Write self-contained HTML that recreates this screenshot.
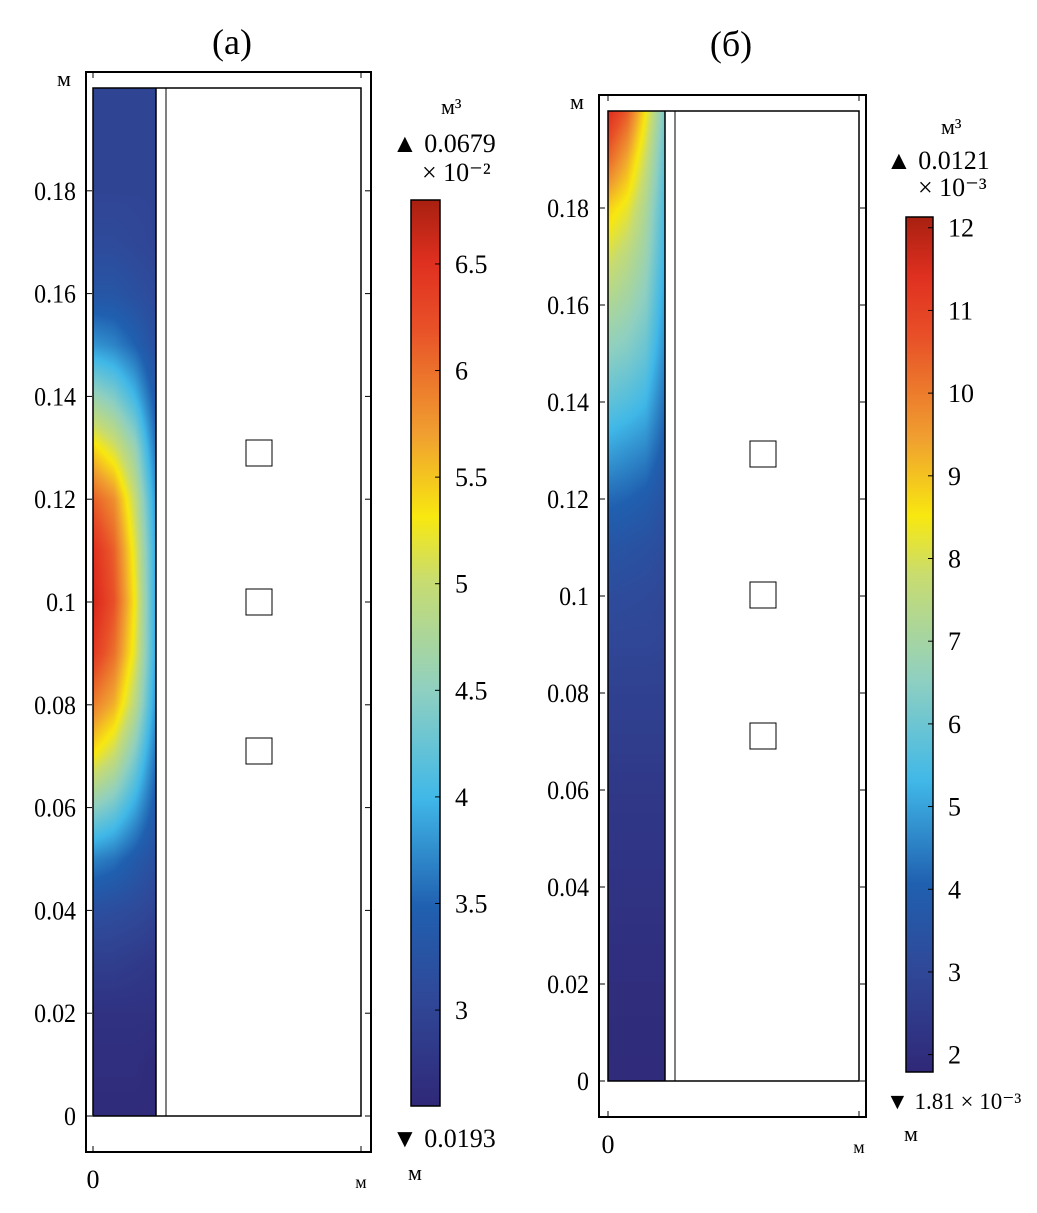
<!DOCTYPE html>
<html><head><meta charset="utf-8">
<style>
body{margin:0;background:#fff;width:1037px;height:1213px;overflow:hidden;position:relative;font-family:"Liberation Serif","DejaVu Serif",serif}
svg{position:absolute;left:0;top:0}
canvas{position:absolute}
</style></head>
<body>
<canvas id="ha" width="63" height="1028" style="left:93px;top:88px"></canvas>
<canvas id="hb" width="57" height="970" style="left:608px;top:111px"></canvas>
<svg id="s" width="1037" height="1213"></svg>
<script>
const yRows = [0,0.01,0.02,0.03,0.04,0.05,0.06,0.07,0.08,0.09,0.10,0.11,0.12,0.13,0.14,0.15,0.16,0.17,0.18,0.19,0.20];
const aCol0 = [2.6,2.65,2.7,2.9,3.2,3.7,4.5,5.3,5.9,6.4,6.6,6.5,6.1,5.4,4.6,3.8,3.3,3.1,3.0,3.0,3.0];
const aCol1 = [2.6,2.65,2.7,2.9,3.15,3.6,4.3,5.0,5.6,6.0,6.2,6.1,5.8,5.1,4.4,3.7,3.3,3.1,3.0,3.0,3.0];
const aCol2 = [2.6,2.65,2.7,2.85,3.1,3.4,3.9,4.4,4.9,5.2,5.3,5.2,5.0,4.6,4.0,3.5,3.2,3.05,3.0,3.0,3.0];
const aCol3 = [2.6,2.6,2.7,2.8,3.0,3.2,3.4,3.6,3.8,3.9,3.9,3.9,3.8,3.6,3.4,3.2,3.1,3.0,3.0,3.0,3.0];
const bCol0 = [1.9,1.95,2.0,2.1,2.2,2.3,2.4,2.6,2.75,2.95,3.2,3.6,4.2,5.0,5.8,6.5,7.2,8.0,8.8,10.3,11.5];
const bCol1 = [1.9,1.95,2.0,2.1,2.2,2.3,2.4,2.6,2.75,2.95,3.15,3.5,4.1,4.8,5.6,6.3,6.9,7.5,8.3,9.3,10.5];
const bCol2 = [1.9,1.95,2.0,2.1,2.2,2.3,2.4,2.6,2.75,2.95,3.1,3.4,3.9,4.6,5.3,5.9,6.4,6.8,7.2,7.8,8.5];
const bCol3 = [1.9,1.95,2.0,2.1,2.2,2.3,2.4,2.6,2.75,2.9,3.0,3.2,3.5,3.9,4.3,4.7,5.0,5.3,5.5,5.8,6.2];
const yTicks = [0,0.02,0.04,0.06,0.08,0.1,0.12,0.14,0.16,0.18];
const yTickLabels = ["0","0.02","0.04","0.06","0.08","0.1","0.12","0.14","0.16","0.18"];
const aCbTicks = [3,3.5,4,4.5,5,5.5,6,6.5];
const aCbLabels = ["3","3.5","4","4.5","5","5.5","6","6.5"];
const bCbTicks = [2,3,4,5,6,7,8,9,10,11,12];
const bCbLabels = ["2","3","4","5","6","7","8","9","10","11","12"];
const aRange = [2.55,6.8];
const bRange = [1.79,12.13];

const cmap = [[0,[48,40,120]],[0.12,[48,72,152]],[0.22,[32,96,176]],[0.34,[64,184,232]],[0.46,[144,208,192]],[0.58,[200,220,112]],[0.65,[248,232,16]],[0.74,[240,160,48]],[0.86,[232,80,40]],[0.93,[224,48,32]],[1,[168,32,16]]];
function col(t){t=Math.max(0,Math.min(1,t));for(let i=1;i<cmap.length;i++){if(t<=cmap[i][0]){const a=cmap[i-1],b=cmap[i];const f=(t-a[0])/(b[0]-a[0]);return a[1].map((c,k)=>Math.round(c+(b[1][k]-c)*f));}}return cmap[cmap.length-1][1];}

function drawHeat(id,cols,range){
  const cv=document.getElementById(id),ctx=cv.getContext('2d');
  const W=cv.width,H=cv.height,img=ctx.createImageData(W,H);
  for(let py=0;py<H;py++){
    const yv=0.2*(1-py/(H-1));let r=yv/0.01;let i0=Math.min(19,Math.floor(r));const fy=r-i0;
    const colv=cols.map(c=>c[i0]+(c[i0+1]-c[i0])*fy);
    for(let px=0;px<W;px++){
      const xf=px/(W-1)*3;const j=Math.min(2,Math.floor(xf));const fx=xf-j;
      const v=colv[j]+(colv[j+1]-colv[j])*fx;
      const c=col((v-range[0])/(range[1]-range[0]));
      const k=(py*W+px)*4;img.data[k]=c[0];img.data[k+1]=c[1];img.data[k+2]=c[2];img.data[k+3]=255;
    }
  }
  ctx.putImageData(img,0,0);
}
drawHeat('ha',[aCol0,aCol1,aCol2,aCol3],aRange);
drawHeat('hb',[bCol0,bCol1,bCol2,bCol3],bRange);

const NS='http://www.w3.org/2000/svg',svg=document.getElementById('s');
function el(tag,attrs,txt){const e=document.createElementNS(NS,tag);for(const k in attrs)e.setAttribute(k,attrs[k]);if(txt!==undefined)e.textContent=txt;svg.appendChild(e);return e;}
const defs=el('defs',{});
const lg=document.createElementNS(NS,'linearGradient');lg.setAttribute('id','cg');lg.setAttribute('x1','0');lg.setAttribute('y1','1');lg.setAttribute('x2','0');lg.setAttribute('y2','0');
cmap.forEach(s=>{const st=document.createElementNS(NS,'stop');st.setAttribute('offset',s[0]);st.setAttribute('stop-color','rgb('+s[1].join(',')+')');lg.appendChild(st);});
defs.appendChild(lg);

function panel(P){
  const yS=v=>P.y0+(P.yTop-P.y0)*v/0.2;
  let e;
  e=el('text',{x:P.titleX,y:P.titleY,'font-size':36,'text-anchor':'middle'},P.title);
  
  e=el('rect',{x:P.ox0,y:P.oy0,width:P.ox1-P.ox0,height:P.oy1-P.oy0,fill:'none',stroke:'#000','stroke-width':2});
  
  e=el('rect',{x:P.ix0,y:P.yTop,width:P.ix1-P.ix0,height:P.y0-P.yTop,fill:'none',stroke:'#000','stroke-width':1.5});
  
  e=el('line',{x1:P.sx,y1:P.yTop,x2:P.sx,y2:P.y0,stroke:'#000','stroke-width':1.5});
  
  e=el('line',{x1:P.lx,y1:P.yTop,x2:P.lx,y2:P.y0,stroke:'#000','stroke-width':1});
  
  P.sq.forEach(cy=>{e=el('rect',{x:P.sqx-13,y:cy-13,width:26,height:26,fill:'#fff',stroke:'#000','stroke-width':1});
    });
  yTicks.forEach((t,i)=>{const y=yS(t);
    el('line',{x1:P.ox0,y1:y,x2:P.ox0+6,y2:y,stroke:'#000'});
    el('line',{x1:P.ox1-6,y1:y,x2:P.ox1,y2:y,stroke:'#000'});
    e=el('text',{x:P.ox0-10,y:y+9,'font-size':26,'text-anchor':'end',transform:'translate('+(P.ox0-10)+',0) scale(0.92,1) translate('+(-(P.ox0-10))+',0)'},yTickLabels[i]);
    });
  el('line',{x1:P.ix0,y1:P.oy1,x2:P.ix0,y2:P.oy1-6,stroke:'#000'});
  el('line',{x1:P.ix1,y1:P.oy1,x2:P.ix1,y2:P.oy1-6,stroke:'#000'});
  el('line',{x1:P.ix0,y1:P.oy0,x2:P.ix0,y2:P.oy0+6,stroke:'#000'});
  el('line',{x1:P.ix1,y1:P.oy0,x2:P.ix1,y2:P.oy0+6,stroke:'#000'});
  e=el('text',{x:P.ix0,y:P.oy1+36,'font-size':26,'text-anchor':'middle'},'0');
  
  e=el('text',{x:P.ix1,y:P.oy1+36,'font-size':18,'text-anchor':'middle'},'м');
  
  e=el('text',{x:P.ox0-22,y:P.oy0+14,'font-size':22,'text-anchor':'middle'},'м');
  
  const cbS=v=>P.cbY1+(P.cbY0-P.cbY1)*(v-P.range[0])/(P.range[1]-P.range[0]);
  e=el('rect',{x:P.cbx,y:P.cbY0,width:P.cbw,height:P.cbY1-P.cbY0,fill:'url(#cg)',stroke:'#000','stroke-width':1.5});
  
  P.cbT.forEach((t,i)=>{const y=cbS(t);
    el('line',{x1:P.cbx+P.cbw-5,y1:y,x2:P.cbx+P.cbw,y2:y,stroke:'#000'});
    e=el('text',{x:P.cbx+P.cbw+15,y:y+9,'font-size':26},P.cbL[i]);
    });
  P.texts.forEach(t=>{e=el('text',{x:t[0],y:t[1],'font-size':t[2]},t[3]);
    });
}
panel({title:'(a)',titleX:232,titleY:54,ox0:86,oy0:72,ox1:371,oy1:1152,ix0:93,ix1:361,yTop:88,y0:1116,sx:156,lx:166,sqx:259,sq:[453,602,751],
  cbx:411,cbw:29,cbY0:200,cbY1:1106,range:aRange,cbT:aCbTicks,cbL:aCbLabels,
  texts:[[441,114,22,'м³','colorbar-unit'],[392,152,26,'▲ 0.0679','max-label'],[422,181,26,'× 10⁻²','max-exponent'],[392,1147,26,'▼ 0.0193','min-label'],[408,1180,22,'м','colorbar-bottom-unit']]});
panel({title:'(б)',titleX:731,titleY:56,ox0:599,oy0:95,ox1:866,oy1:1117,ix0:608,ix1:859,yTop:111,y0:1081,sx:665,lx:675,sqx:763,sq:[454,595,736],
  cbx:906,cbw:27,cbY0:217,cbY1:1072,range:bRange,cbT:bCbTicks,cbL:bCbLabels,
  texts:[[941,134,22,'м³','colorbar-unit'],[886,169,26,'▲ 0.0121','max-label'],[918,196,26,'× 10⁻³','max-exponent'],[886,1109,23,'▼ 1.81 × 10⁻³','min-label'],[904,1141,22,'м','colorbar-bottom-unit']]});
</script>
</body></html>
